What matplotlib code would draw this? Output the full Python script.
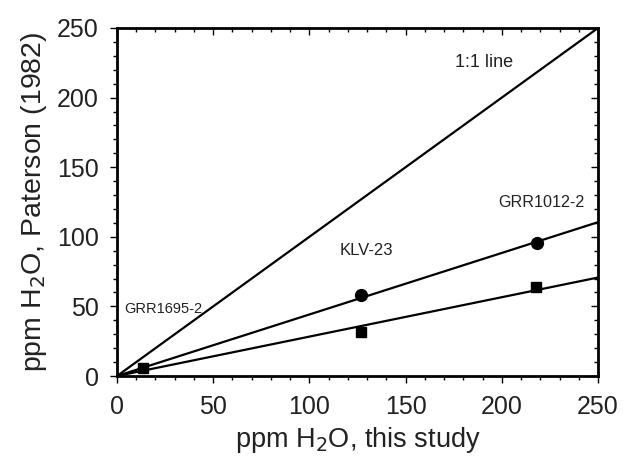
import numpy as np
import matplotlib
matplotlib.use("Agg")
import matplotlib.pyplot as plt
from matplotlib.ticker import MultipleLocator

plt.rcParams['font.family'] = ['Liberation Sans', 'DejaVu Sans']

# samples (x = this study, y = Paterson 1982)
circle_x = [126.6, 218.3]
circle_y = [58.2, 95.5]
square_x = [13.7, 126.6, 218.0]
square_y = [5.5, 31.8, 64.2]

# fitted lines through origin (slopes)
circle_slope = 0.442
square_slope = 0.283

labels = ['1:1 line', 'GRR1012-2', 'KLV-23', 'GRR1695-2']
label_x = [191, 220.7, 129.7, 24]
label_y = [225, 124.5, 90.5, 47.9]
label_size = [13, 11.6, 12, 10.5]

fig = plt.figure(figsize=(6.38, 4.61), dpi=100)
ax = fig.add_axes([117/638, 1 - 376/461, 481/638, 348/461])

xx = np.array([0, 250])
ax.plot(xx, xx, color='black', lw=1.6)
ax.plot(xx, circle_slope * xx, color='black', lw=1.6)
ax.plot(xx, square_slope * xx, color='black', lw=1.6)

ax.plot(circle_x, circle_y, 'o', color='black', ms=8.5)
ax.plot(square_x, square_y, 's', color='black', ms=7.2)

for t, x, y, fs in zip(labels, label_x, label_y, label_size):
    ax.text(x, y, t, fontsize=fs, ha='center', va='center', color='#222222')

ax.set_xlim(0, 250)
ax.set_ylim(0, 250)
ax.xaxis.set_major_locator(MultipleLocator(50))
ax.xaxis.set_minor_locator(MultipleLocator(10))
ax.yaxis.set_major_locator(MultipleLocator(50))
ax.yaxis.set_minor_locator(MultipleLocator(10))

ax.tick_params(which='both', direction='out', top=False, right=False,
               labelsize=18, width=1, labelcolor='#222222')
ax.tick_params(which='major', length=5)
ax.tick_params(which='minor', length=3)
ax.tick_params(axis='x', which='major', pad=9)
ax.tick_params(axis='y', which='major', pad=8)
# mirrored inward ticks on top and right
sec = ax.secondary_xaxis('top')
sec.xaxis.set_major_locator(MultipleLocator(50))
sec.xaxis.set_minor_locator(MultipleLocator(10))
sec.tick_params(which='both', direction='in', labeltop=False, width=1)
sec.tick_params(which='major', length=5)
sec.tick_params(which='minor', length=3)
secy = ax.secondary_yaxis('right')
secy.yaxis.set_major_locator(MultipleLocator(50))
secy.yaxis.set_minor_locator(MultipleLocator(10))
secy.tick_params(which='both', direction='in', labelright=False, width=1)
secy.tick_params(which='major', length=5)
secy.tick_params(which='minor', length=3)

for s in ax.spines.values():
    s.set_linewidth(2)

ax.set_xlabel('ppm H$_2$O, this study', fontsize=19.5, labelpad=4,
              color='#222222')
ax.set_ylabel('ppm H$_2$O, Paterson (1982)', fontsize=20.5, labelpad=6,
              color='#222222')

fig.savefig('out.png', dpi=100)
